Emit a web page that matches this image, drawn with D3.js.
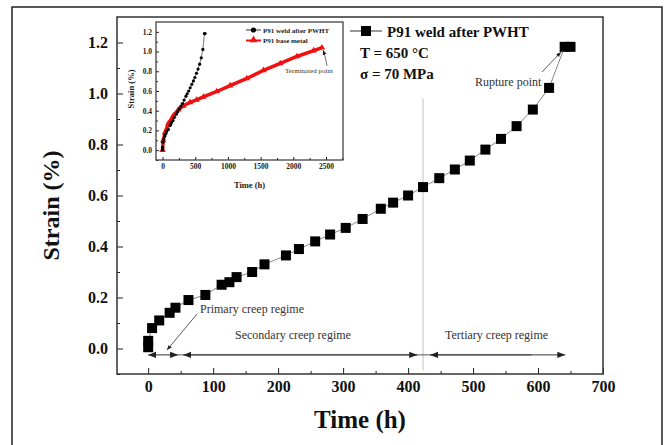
<!DOCTYPE html>
<html>
<head>
<meta charset="utf-8">
<script src="https://cdn.jsdelivr.net/npm/d3@7"></script>
<style>
  body { margin: 0; background: #fff; }
  svg text { font-family: "Times New Roman", "Liberation Serif", serif; }
</style>
</head>
<body>
<div id="wrapper"></div>
<script>
// P91 weld after PWHT (main plot + inset black series)
const weldTime = [0, 0, 6, 17, 33, 42, 62, 88, 113, 125, 136, 160, 179, 212, 232, 257, 280, 304, 330, 358, 377, 400, 423, 448, 472, 495, 519, 543, 567, 592, 617, 641, 650];
const weldStrain = [0.005, 0.03, 0.08, 0.11, 0.14, 0.16, 0.19, 0.21, 0.25, 0.26, 0.28, 0.30, 0.33, 0.365, 0.39, 0.42, 0.447, 0.473, 0.508, 0.548, 0.572, 0.60, 0.633, 0.668, 0.702, 0.737, 0.78, 0.822, 0.872, 0.937, 1.022, 1.183, 1.183];
// P91 base metal (inset red series)
const baseTime = [0, 10, 38, 89, 166, 242, 320, 420, 520, 625, 830, 1034, 1289, 1544, 1800, 2055, 2310, 2438];
const baseStrain = [0, 0.1, 0.18, 0.27, 0.35, 0.41, 0.45, 0.485, 0.51, 0.54, 0.595, 0.655, 0.727, 0.81, 0.88, 0.95, 1.01, 1.04];

const xTicks = [0, 100, 200, 300, 400, 500, 600, 700];
const yTicks = [0, 0.2, 0.4, 0.6, 0.8, 1.0, 1.2];
const insetXTicks = [0, 500, 1000, 1500, 2000, 2500];
const insetYTicks = [0, 0.2, 0.4, 0.6, 0.8, 1.0, 1.2];

// regime boundaries (h) for the arrows
const primaryRange = [0, 46];
const secondaryRange = [54, 414];
const tertiaryRange = [434, 642];
const tertiaryStart = 423;

const weld = weldTime.map((t, i) => ({t: t, s: weldStrain[i]}));
const base = baseTime.map((t, i) => ({t: t, s: baseStrain[i]}));

const dimension = {
    width: 666,
    height: 445,
    margin: {top: 17, left: 117, bottom: 71, right: 63}
};
dimension.boundedWidth = dimension.width - dimension.margin.left - dimension.margin.right;
dimension.boundedHeight = dimension.height - dimension.margin.top - dimension.margin.bottom;

const svg = d3.select("#wrapper").append("svg")
    .attr("width", dimension.width)
    .attr("height", dimension.height);

// outer frame
svg.append("rect")
    .attr("x", 12).attr("y", 7)
    .attr("width", 650).attr("height", 460)
    .attr("fill", "none").attr("stroke", "#222").attr("stroke-width", 1.5);

const x = d3.scaleLinear().domain([-48, 700]).range([dimension.margin.left, dimension.margin.left + dimension.boundedWidth]);
const y = d3.scaleLinear().domain([-0.1, 1.3]).range([dimension.margin.top + dimension.boundedHeight, dimension.margin.top]);

const defs = svg.append("defs");
function arrowMarker(id, size) {
    defs.append("marker")
        .attr("id", id)
        .attr("viewBox", "0 0 10 10")
        .attr("refX", 10).attr("refY", 5)
        .attr("markerWidth", size).attr("markerHeight", size)
        .attr("markerUnits", "userSpaceOnUse")
        .attr("orient", "auto-start-reverse")
        .append("path")
        .attr("d", "M0,1 L10,5 L0,9 Z")
        .attr("fill", "#222");
}
arrowMarker("arr", 8);
arrowMarker("arrSmall", 5);

// axes
const bottomY = y.range()[0];
const leftX = x.range()[0];

svg.append("g")
    .attr("transform", `translate(0,${bottomY})`)
    .call(d3.axisBottom(x).tickValues(xTicks).tickSizeInner(-6).tickSizeOuter(0).tickPadding(7))
    .call(g => g.select(".domain").remove())
    .call(g => g.selectAll("text").attr("font-size", 16).attr("font-weight", "bold").attr("fill", "#111"));
svg.append("g")
    .attr("transform", `translate(0,${bottomY})`)
    .call(d3.axisBottom(x).tickValues(d3.range(50, 700, 100)).tickSizeInner(-3).tickSizeOuter(0).tickFormat(""))
    .call(g => g.select(".domain").remove());

svg.append("g")
    .attr("transform", `translate(${leftX},0)`)
    .call(d3.axisLeft(y).tickValues(yTicks).tickFormat(d3.format(".1f")).tickSizeInner(-6).tickSizeOuter(0).tickPadding(9))
    .call(g => g.select(".domain").remove())
    .call(g => g.selectAll("text").attr("font-size", 16).attr("font-weight", "bold").attr("fill", "#111"));
svg.append("g")
    .attr("transform", `translate(${leftX},0)`)
    .call(d3.axisLeft(y).tickValues([-0.1, 0.1, 0.3, 0.5, 0.7, 0.9, 1.1]).tickSizeInner(-3).tickSizeOuter(0).tickFormat(""))
    .call(g => g.select(".domain").remove());

svg.selectAll(".tick line").attr("stroke", "#222");

// plot box
svg.append("rect")
    .attr("x", leftX).attr("y", dimension.margin.top)
    .attr("width", dimension.boundedWidth).attr("height", dimension.boundedHeight)
    .attr("fill", "none").attr("stroke", "#333").attr("stroke-width", 1.5);

// axis titles
svg.append("text")
    .attr("x", (x.range()[0] + x.range()[1]) / 2).attr("y", 428)
    .attr("text-anchor", "middle")
    .attr("font-size", 25).attr("font-weight", "bold").attr("fill", "#111")
    .text("Time (h)");
svg.append("text")
    .attr("transform", `translate(59,${(y.range()[0] + y.range()[1]) / 2 + 10}) rotate(-90)`)
    .attr("text-anchor", "middle")
    .attr("font-size", 24).attr("font-weight", "bold").attr("fill", "#111")
    .text("Strain (%)");

// tertiary start line
svg.append("line")
    .attr("x1", x(tertiaryStart)).attr("x2", x(tertiaryStart))
    .attr("y1", y(0.98)).attr("y2", y(-0.085))
    .attr("stroke", "#ccc").attr("stroke-width", 1.2);

// main series
svg.append("path")
    .attr("d", d3.line().x(d => x(d.t)).y(d => y(d.s))(weld))
    .attr("fill", "none").attr("stroke", "#888").attr("stroke-width", 1);
svg.append("g").selectAll("rect")
    .data(weld)
    .join("rect")
    .attr("x", d => x(d.t) - 5).attr("y", d => y(d.s) - 5)
    .attr("width", 10).attr("height", 10)
    .attr("fill", "#000");

// regime arrows
const arrowY = y(-0.025);
svg.append("line")
    .attr("x1", x(primaryRange[1])).attr("x2", x(590))
    .attr("y1", arrowY).attr("y2", arrowY)
    .attr("stroke", "#555").attr("stroke-width", 1);
[primaryRange, secondaryRange, tertiaryRange].forEach(r => {
    svg.append("line")
        .attr("x1", x(r[0])).attr("x2", x(r[1]))
        .attr("y1", arrowY).attr("y2", arrowY)
        .attr("stroke", "#333").attr("stroke-width", 1)
        .attr("marker-start", "url(#arr)")
        .attr("marker-end", "url(#arr)");
});

const labelStyle = s => s.attr("font-size", 12).attr("fill", "#333");
svg.append("text").attr("x", 200).attr("y", 313).text("Primary creep regime").call(labelStyle);
svg.append("line")
    .attr("x1", 197).attr("y1", 314).attr("x2", 167).attr("y2", 350)
    .attr("stroke", "#333").attr("stroke-width", 0.8)
    .attr("marker-end", "url(#arrSmall)");
svg.append("text").attr("x", 235).attr("y", 339).text("Secondary creep regime").call(labelStyle);
svg.append("text").attr("x", 445).attr("y", 339).text("Tertiary creep regime").call(labelStyle);
svg.append("text").attr("x", 475).attr("y", 86).text("Rupture point").call(labelStyle);
svg.append("line")
    .attr("x1", 542).attr("y1", 72).attr("x2", 561).attr("y2", 52)
    .attr("stroke", "#333").attr("stroke-width", 0.8)
    .attr("marker-end", "url(#arrSmall)");

// main legend and conditions
svg.append("line").attr("x1", 350).attr("x2", 382).attr("y1", 31).attr("y2", 31).attr("stroke", "#333");
svg.append("rect").attr("x", 361).attr("y", 26).attr("width", 10).attr("height", 10).attr("fill", "#000");
svg.append("text").attr("x", 387).attr("y", 37).attr("font-size", 15).attr("font-weight", "bold").attr("fill", "#111").text("P91 weld after PWHT");
svg.append("text").attr("x", 360).attr("y", 58).attr("font-size", 15).attr("font-weight", "bold").attr("fill", "#111").text("T = 650 °C");
svg.append("text").attr("x", 360).attr("y", 79).attr("font-size", 15).attr("font-weight", "bold").attr("fill", "#111").text("σ = 70 MPa");

// ---- inset ----
const inset = {left: 156, right: 343, top: 22, bottom: 160};
const x2 = d3.scaleLinear().domain([-100, 2760]).range([inset.left, inset.right]);
const y2 = d3.scaleLinear().domain([-0.1, 1.3]).range([inset.bottom, inset.top]);

svg.append("rect")
    .attr("x", 124).attr("y", inset.top - 2)
    .attr("width", inset.right - 124).attr("height", 172)
    .attr("fill", "#fff");

const insetAxisText = g => g.selectAll("text").attr("font-size", 7.5).attr("font-weight", "bold").attr("fill", "#222");
svg.append("g")
    .attr("transform", `translate(0,${inset.bottom})`)
    .call(d3.axisBottom(x2).tickValues(insetXTicks).tickFormat(d3.format("d")).tickSizeInner(-3).tickSizeOuter(0).tickPadding(4))
    .call(g => g.select(".domain").remove())
    .call(insetAxisText);
svg.append("g")
    .attr("transform", `translate(0,${inset.bottom})`)
    .call(d3.axisBottom(x2).tickValues(d3.range(250, 2760, 500)).tickSizeInner(-2).tickSizeOuter(0).tickFormat(""))
    .call(g => g.select(".domain").remove());
svg.append("g")
    .attr("transform", `translate(${inset.left},0)`)
    .call(d3.axisLeft(y2).tickValues(insetYTicks).tickFormat(d3.format(".1f")).tickSizeInner(-3).tickSizeOuter(0).tickPadding(4))
    .call(g => g.select(".domain").remove())
    .call(insetAxisText);
svg.append("g")
    .attr("transform", `translate(${inset.left},0)`)
    .call(d3.axisLeft(y2).tickValues([-0.1, 0.1, 0.3, 0.5, 0.7, 0.9, 1.1]).tickSizeInner(-2).tickSizeOuter(0).tickFormat(""))
    .call(g => g.select(".domain").remove());
svg.selectAll(".tick line").attr("stroke", "#222");

svg.append("rect")
    .attr("x", inset.left).attr("y", inset.top)
    .attr("width", inset.right - inset.left).attr("height", inset.bottom - inset.top)
    .attr("fill", "none").attr("stroke", "#333").attr("stroke-width", 1.2);

svg.append("text")
    .attr("x", (inset.left + inset.right) / 2).attr("y", 188)
    .attr("text-anchor", "middle").attr("font-size", 8.5).attr("font-weight", "bold").attr("fill", "#222")
    .text("Time (h)");
svg.append("text")
    .attr("transform", `translate(134,${(inset.top + inset.bottom) / 2 - 2}) rotate(-90)`)
    .attr("text-anchor", "middle").attr("font-size", 8.5).attr("font-weight", "bold").attr("fill", "#222")
    .text("Strain (%)");

// red base metal series
svg.append("path")
    .attr("d", d3.line().x(d => x2(d.t)).y(d => y2(d.s))(base))
    .attr("fill", "none").attr("stroke", "#f01010").attr("stroke-width", 3.5);
svg.append("g").selectAll("path")
    .data(base)
    .join("path")
    .attr("transform", d => `translate(${x2(d.t)},${y2(d.s)})`)
    .attr("d", d3.symbol(d3.symbolTriangle, 18))
    .attr("fill", "#f01010");

// black weld series
svg.append("path")
    .attr("d", d3.line().x(d => x2(d.t)).y(d => y2(d.s))(weld))
    .attr("fill", "none").attr("stroke", "#555").attr("stroke-width", 0.8);
svg.append("g").selectAll("circle")
    .data(weld)
    .join("circle")
    .attr("cx", d => x2(d.t)).attr("cy", d => y2(d.s))
    .attr("r", 1.6)
    .attr("fill", "#000");

// inset legend
svg.append("line").attr("x1", 246).attr("x2", 261).attr("y1", 30).attr("y2", 30).attr("stroke", "#333");
svg.append("circle").attr("cx", 253.5).attr("cy", 30).attr("r", 2.6).attr("fill", "#000");
svg.append("text").attr("x", 263).attr("y", 32.5).attr("font-size", 7).attr("font-weight", "bold").attr("fill", "#222").text("P91 weld after PWHT");
svg.append("line").attr("x1", 246).attr("x2", 261).attr("y1", 40.5).attr("y2", 40.5).attr("stroke", "#f01010").attr("stroke-width", 2);
svg.append("path").attr("transform", "translate(253.5,40)").attr("d", d3.symbol(d3.symbolTriangle, 26)).attr("fill", "#f01010");
svg.append("text").attr("x", 263).attr("y", 43).attr("font-size", 7).attr("font-weight", "bold").attr("fill", "#222").text("P91 base metal");

svg.append("text").attr("x", 285).attr("y", 73).attr("font-size", 7).attr("fill", "#333").text("Terminated point");
svg.append("path")
    .attr("d", "M327,66 Q326,58 323,50")
    .attr("fill", "none").attr("stroke", "#333").attr("stroke-width", 0.7)
    .attr("marker-end", "url(#arrSmall)");
</script>
</body>
</html>
